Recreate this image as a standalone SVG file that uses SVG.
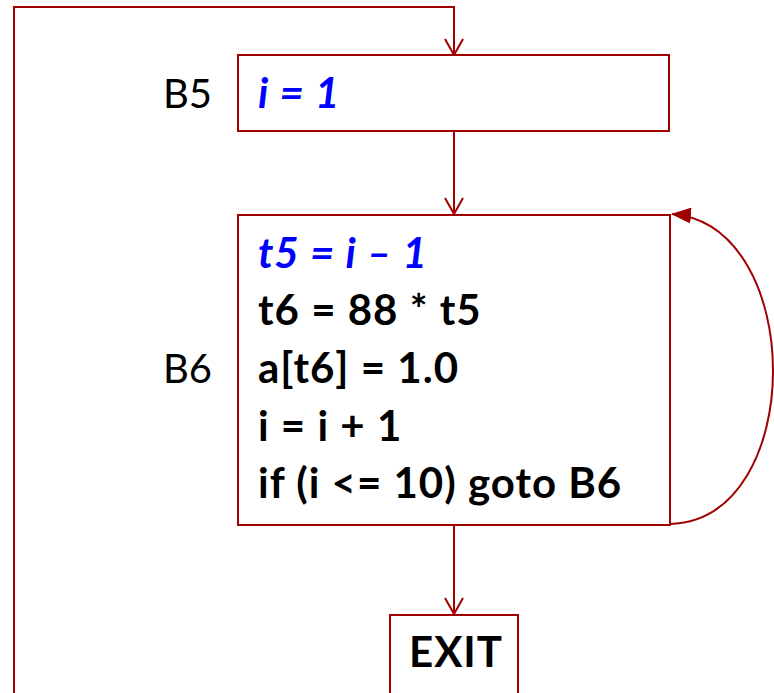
<svg xmlns="http://www.w3.org/2000/svg" width="774" height="693" viewBox="0 0 774 693">
  <defs>
    <marker id="open" viewBox="0 0 20 20" refX="19" refY="10" markerWidth="20" markerHeight="20" markerUnits="userSpaceOnUse" orient="auto">
      <path d="M3,1 L19,10 L3,19" fill="none" stroke="#A00000" stroke-width="2"/>
    </marker>
    <marker id="solid" viewBox="0 0 20 16" refX="19" refY="8" markerWidth="20" markerHeight="16" markerUnits="userSpaceOnUse" orient="auto">
      <path d="M0,0 L20,8 L0,16 z" fill="#A00000"/>
    </marker>
  </defs>
  <style>
    .box { fill: #ffffff; stroke: #A00000; stroke-width: 2; }
    .edge { fill: none; stroke: #A00000; stroke-width: 2; }
    .lbl { font-family: Lato, "Liberation Sans", sans-serif; font-size: 40px; fill: #000000; }
    .code { font-family: Lato, "Liberation Sans", sans-serif; font-size: 42px; font-weight: bold; letter-spacing: 1px; fill: #000000; }
    .hl { fill: #0000FF; font-style: italic; }
  </style>
  <rect width="774" height="693" fill="#ffffff"/>

  <g id="edges">
    <path class="edge" d="M14,693 L14,7 L454,7 L454,55" marker-end="url(#open)"/>
    <path class="edge" d="M454,132 L454,214" marker-end="url(#open)"/>
    <path class="edge" d="M454,525 L454,614" marker-end="url(#open)"/>
    <path class="edge" d="M670,524 C807,520 807,225 672,214" marker-end="url(#solid)"/>
  </g>

  <g id="B5">
    <rect class="box" x="238" y="55" width="431" height="76"/>
    <text class="lbl" x="163" y="108">B5</text>
    <text class="code hl" x="258" y="108">i = 1</text>
  </g>

  <g id="B6">
    <rect class="box" x="238" y="215" width="432" height="310"/>
    <text class="lbl" x="163" y="383">B6</text>
    <text class="code hl" x="258" y="268">t5 = i – 1</text>
    <text class="code" x="258" y="325">t6 = 88 * t5</text>
    <text class="code" x="258" y="383">a[t6] = 1.0</text>
    <text class="code" x="258" y="441">i = i + 1</text>
    <text class="code" x="258" y="498">if (i &lt;= 10) goto B6</text>
  </g>

  <g id="EXIT">
    <rect class="box" x="390" y="615" width="128" height="80"/>
    <text class="code" x="456" y="667" text-anchor="middle">EXIT</text>
  </g>
</svg>
